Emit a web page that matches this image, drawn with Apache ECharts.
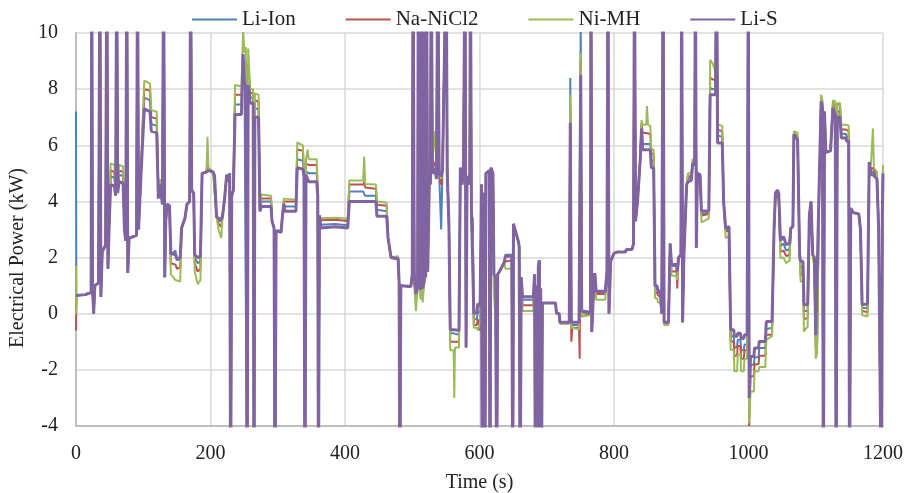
<!DOCTYPE html>
<html>
<head>
<meta charset="utf-8">
<script src="https://cdn.jsdelivr.net/npm/echarts@6/dist/echarts.min.js"></script>
<style>
html,body{margin:0;padding:0;background:#fff;}
#c{width:909px;height:493px;}
</style>
</head>
<body>
<div id="c"></div>
<script>
// Time (s)
const timeS = [
0,0.5,1.5,14,18,22.5,23.5,24.5,26.3,28,
33.5,35.5,37,39,44,45.8,47.5,49.5,51.5,57,
59,60.5,62,64,70,72,74,75.5,77,79,
86,90,91.5,93,96,99,101.5,110,112,120,
122.5,125,128.5,130.3,132,133.5,135.5,139,141,148,
150,155,157,162,165,169,170.5,172,175,176.5,
181,185,187.5,194,195.5,197,204,206,209,212,
216,218,221,224,226,228.5,230,231.5,234,236.5,
246,248.5,250.5,252.5,254.5,256,259,263.5,264.7,266,
271.5,273.5,275.5,290,291.5,294.5,296,297.5,305,307,
309,310.5,327,329,337.5,339,340.5,342,344.5,346,
358,359.5,360.5,362,364,385,404,406.5,427,428.5,
430,446,447.5,462,464,468.5,479,480.5,481.5,483,
498,500,501.3,503,505.5,508,509,510.5,512.5,514,
515.5,518,519,520,521.3,523,525.5,527,528.3,530,
534,536,538,540,543,545,550.5,552,554.5,556.5,
561.5,562.5,563.5,569.5,571.5,574,576,578.5,580,581.5,
585.5,586.5,588,590,591.5,596,597.5,601,603,604,
605.5,607,608,609.5,614.5,615.6,617,620,621.5,624,
625.5,627,632,637,638.5,648,649.5,650.5,657.5,659,
660.5,662,664,680,682,683,684.5,686,687.5,689,
690,691,692,693.5,713,714.5,718.5,719.5,733.5,735,
736.5,738,748,749,750.5,752,765,765.8,767,769,
771.5,773.5,787,789.5,791,792.5,795,800,805,817,
818,827,829,830.5,832,835,839,841,842.5,848,
849,850.5,854,855.5,859,861,864,865.5,869,871,
873,874.5,881,883.5,885.5,893,894,896,899.5,900.6,
902,904,908,910,915,917,920,921,922.5,924,
928,930,941,943,947,951,952.5,954,961,963,
966,971,973.5,978,979,983,984,988,989,993,
994,998,999.7,1001,1003,1008,1009,1015,1016,1025,
1026.5,1035,1038,1040,1043,1045,1047.5,1052,1056,1061,
1063,1066,1067.5,1073,1076,1077.5,1081,1082.5,1088,1090.5,
1093,1095.5,1098,1100,1102,1104.5,1108,1110,1111.3,1113,
1115,1122,1125.5,1129,1130.3,1132,1136,1138,1145,1146,
1149,1150.3,1152,1156,1164,1166.5,1169,1177,1179.5,1182,
1185,1186.5,1191,1193.5,1196,1197.5,1199,1200
];

// Li-S (kW)
const liS = [
0.65,0.65,0.65,0.68,0.72,0.75,13,0.9,0,1.0,
1.1,13,0.6,2.2,2.45,13,1.6,3.3,4.6,4.55,
4.2,13,4.3,4.7,4.65,3.0,2.6,13,1.45,2.7,
2.75,2.8,13,3.0,4.6,6.1,7.3,7.2,6.5,6.45,
4.1,4.6,3.9,13,1.3,3.3,3.9,3.85,2.15,2.1,
1.95,2.0,3.05,3.4,3.9,4.0,13,4.4,4.3,2.1,
2.0,2.05,5.0,5.05,5.1,5.1,5.05,4.9,3.45,3.4,
3.35,3.5,4.1,4.95,4.7,5.0,-7,4.2,4.4,7.1,
7.1,9.25,8.2,8.1,-7,8.15,7.5,7.5,-7,7.0,
7.0,3.65,3.82,3.82,3.3,3.05,-7,2.95,2.9,3.5,
3.9,3.65,3.65,5.2,5.15,4.9,-7,4.95,5.0,4.7,
4.7,4.2,-7,3.5,3.05,3.1,3.05,4.0,4.0,4.05,
4.0,4.0,3.47,3.47,2.7,2.0,1.95,1.1,-7,1.0,
0.97,1.4,13,1.4,0.7,1.0,13,1.2,0.85,13,
0.9,1.2,13,1.3,13,1.5,4.9,4.6,13,5.0,
5.1,4.8,13,5.0,4.9,5.1,13,5.0,3.2,-0.57,
-0.57,-0.57,-0.6,-0.6,5.2,4.6,5.0,13,-1.2,4.9,
4.6,13,3.76,3.7,0.0,0.05,0.35,0.3,4.6,-7,
4.2,4.3,-7,5.0,5.1,-7,5.2,5.0,1.4,1.3,
-7,1.4,1.6,1.85,2.05,2.05,-7,3.2,2.6,2.4,
-7,1.3,0.6,0.6,1.4,-7,1.0,-7,1.7,1.9,
-7,0.9,-7,0.38,0.38,0.02,0.0,-0.3,-0.3,6.8,
-0.3,-0.3,-0.3,-0.3,8.5,0.1,0.05,13,-0.65,0.5,
1.45,0.8,0.8,1.5,13,0.0,1.87,2.15,2.2,2.2,
2.28,2.3,2.5,13,3.3,4.0,5.5,6.6,5.84,5.84,
5.9,5.84,5.84,5.2,5.2,1.0,1.0,0.8,0.8,0.0,
13,-0.3,-0.3,2.5,1.75,1.75,1.5,2.0,2.1,13,
-0.3,2.1,4.6,4.7,4.75,5.35,5.3,13,2.35,5.0,
4.95,3.65,3.67,7.8,7.8,7.8,13,6.08,6.08,4.0,
3.05,3.1,-0.57,-0.57,-0.8,-0.8,-0.7,-0.7,-0.88,-0.88,
-0.75,-0.75,13,-3.0,-1.52,-1.52,-1.22,-1.22,-0.99,-0.99,
-0.28,-0.28,3.0,4.3,4.4,4.3,2.6,2.75,2.46,2.5,
3.05,3.1,6.38,6.2,2.1,1.87,1.87,0.32,0.32,3.5,
4.0,2.1,2.0,-0.77,-0.7,4.0,7.57,7.3,-7,7.2,
5.75,5.8,7.33,7.1,-7,7.0,7.0,6.26,6.26,6.14,
6.14,-7,3.76,3.6,3.55,3.0,0.32,0.35,5.4,4.95,
4.95,4.9,4.8,3.05,3.0,-7,3.5,5.0
];

// Li-Ion (kW)
const liIon = [
7.2,0.65,0.65,0.68,0.72,0.75,13,0.9,0,1.0,
1.1,13,0.6,2.2,2.45,13,1.6,3.3,4.9,4.85,
4.3,13,4.3,4.95,4.9,3.1,2.6,13,1.45,2.7,
2.75,2.8,13,3.0,4.6,6.4,7.7,7.6,6.75,6.7,
4.2,4.65,3.9,13,1.3,3.3,3.9,3.85,2.1,2.25,
1.9,1.95,3.05,3.4,3.9,4.0,13,4.4,4.3,2.0,
1.8,1.85,5.0,5.05,5.2,5.1,5.05,4.95,3.45,3.3,
3.3,3.5,4.1,4.95,4.7,5.0,-7,4.2,4.4,7.45,
7.45,8.8,8.5,8.55,-7,8.4,7.7,7.7,-7,7.3,
7.3,3.65,4.0,4.0,3.3,3.05,-7,2.95,2.95,3.5,
3.95,3.82,3.82,5.5,5.45,4.9,-7,5.07,5.1,5.0,
5.0,4.2,-7,3.5,3.17,3.2,3.15,4.35,4.35,4.4,
4.2,4.2,3.7,3.65,2.7,2.0,1.95,1.1,-7,1.0,
0.97,1.4,13,1.3,0.6,1.0,13,1.1,0.8,13,
0.8,1.2,13,1.3,13,1.5,5.0,4.7,13,5.05,
5.2,4.9,13,5.0,3.0,5.2,13,5.0,3.4,-0.7,
-0.7,-0.75,-0.75,-0.75,5.2,4.6,5.0,13,-1.2,4.9,
4.6,13,3.5,3.4,-0.2,-0.2,0.1,0.0,4.6,-7,
4.2,4.3,-7,5.0,5.1,-7,5.2,5.0,1.2,1.1,
-7,1.4,1.6,1.85,2.1,2.1,-7,3.2,2.6,2.4,
-7,1.3,0.5,0.5,1.4,-7,1.0,-7,1.7,1.9,
-7,0.9,-7,0.38,0.38,0.02,0.0,-0.3,-0.3,8.4,
-0.4,-0.4,-0.4,-0.45,10.5,0.05,0.0,13,-0.65,0.5,
1.45,0.75,0.75,1.5,13,0.0,1.87,2.15,2.2,2.2,
2.28,2.3,2.5,13,3.3,4.0,5.5,6.7,6.05,6.05,
6.1,6.05,6.05,5.45,5.45,0.9,0.9,0.75,0.75,0.0,
13,-0.3,-0.3,2.5,1.7,1.7,1.4,2.0,2.1,13,
-0.3,2.1,4.6,4.8,4.85,5.4,5.35,13,2.35,5.0,
4.95,3.55,3.6,8.04,8.0,8.0,13,6.35,6.3,4.0,
3.0,3.0,-0.8,-0.8,-1.2,-1.2,-0.93,-0.93,-1.3,-1.3,
-1.1,-1.1,13,-3.4,-1.82,-1.82,-1.55,-1.55,-1.22,-1.22,
-0.55,-0.5,3.0,4.2,4.3,4.2,2.4,2.5,2.25,2.3,
3.05,3.1,6.4,6.25,2.1,1.65,1.65,0.1,0.1,3.5,
4.0,2.1,1.9,-1.0,-0.9,3.8,7.6,7.4,-7,7.2,
5.75,5.8,7.4,7.25,-7,7.2,7.2,6.4,6.4,6.3,
6.3,-7,3.76,3.6,3.55,3.0,0.2,0.2,5.4,5.05,
5.05,5.0,4.85,3.05,3.0,-7,3.5,5.05
];

// Na-NiCl2 (kW)
const naNiCl2 = [
-0.6,0.65,0.65,0.68,0.72,0.75,13,0.9,0,1.0,
1.1,13,0.6,2.2,2.45,13,1.6,3.3,5.1,5.05,
4.4,13,4.3,5.1,5.05,3.1,2.6,13,1.45,2.7,
2.75,2.8,13,3.0,4.6,6.6,8.0,7.95,7.0,6.95,
4.35,4.7,3.9,13,1.3,3.3,3.9,3.85,1.8,1.75,
1.6,1.65,3.05,3.4,3.9,4.0,13,4.4,4.3,1.8,
1.5,1.6,5.0,5.05,5.4,5.15,5.05,5.0,3.45,3.2,
3.1,3.5,4.1,4.95,4.7,5.0,-7,4.2,4.4,7.8,
7.8,9.0,8.8,9.0,-7,8.9,7.85,7.85,-7,7.6,
7.55,3.65,4.1,4.1,3.3,3.05,-7,2.95,2.95,3.5,
4.0,4.0,4.0,5.85,5.8,4.9,-7,5.35,5.4,5.3,
5.3,4.2,-7,3.5,3.33,3.35,3.3,4.6,4.6,4.7,
4.5,4.45,3.88,3.85,2.7,2.0,2.0,1.1,-7,1.0,
0.97,1.4,13,1.2,0.4,1.0,13,1.0,0.7,13,
0.65,1.2,13,1.3,13,1.5,5.1,4.8,13,5.2,
5.4,5.0,13,5.1,4.6,5.2,13,5.2,3.2,-1.0,
-1.0,-1.05,-1.0,-1.0,5.2,4.6,5.0,13,-1.2,4.9,
4.6,13,3.2,3.1,-0.4,-0.4,-0.2,-0.6,4.6,-7,
4.2,4.3,-7,5.0,5.1,-7,5.2,5.0,0.9,0.8,
-7,1.4,1.6,1.85,1.9,1.9,-7,3.2,2.6,2.4,
-7,1.3,0.3,0.3,1.4,-7,1.0,-7,1.7,1.9,
-7,0.9,-7,0.38,0.38,0.02,0.0,-0.35,-0.35,7.4,
-1.0,-0.5,-0.5,-1.6,9.0,-0.1,0.0,13,-0.65,0.5,
1.45,0.7,0.7,1.5,13,0.0,1.87,2.15,2.2,2.2,
2.28,2.3,2.5,13,3.3,4.0,5.5,6.8,6.44,6.44,
6.5,6.44,6.4,5.7,5.7,0.75,0.75,0.65,0.6,0.0,
13,-0.35,-0.35,2.5,1.5,1.5,0.9,2.0,2.1,13,
-0.3,2.1,4.6,4.9,4.9,5.45,5.4,13,2.35,5.0,
4.95,3.5,3.55,8.4,8.35,8.3,13,6.55,6.5,4.0,
2.95,2.95,-0.99,-0.99,-1.5,-1.5,-1.15,-1.15,-1.6,-1.6,
-1.3,-1.3,13,-4.0,-2.23,-2.23,-1.8,-1.8,-1.5,-1.5,
-0.75,-0.75,3.0,4.1,4.2,4.1,2.2,2.25,2.05,2.1,
3.05,3.1,6.45,6.3,2.1,1.4,1.4,-0.2,-0.15,3.5,
4.0,2.1,1.8,-1.2,-1.1,3.6,7.7,7.5,-7,7.2,
5.75,5.8,7.5,7.4,-7,7.45,7.5,6.56,6.56,6.5,
6.5,-7,3.76,3.6,3.55,3.0,0.1,0.05,5.4,5.15,
5.2,5.1,4.95,3.05,3.0,-7,3.5,5.15
];

// Ni-MH (kW)
const niMH = [
1.7,0,0.65,0.68,0.72,0.75,13,0.9,0,1.0,
1.1,13,0.6,2.2,2.45,13,1.6,3.3,5.35,5.3,
4.5,13,4.3,5.3,5.25,3.2,2.6,13,1.45,2.7,
2.75,2.8,13,3.0,4.6,6.8,8.3,8.2,7.25,7.2,
4.5,4.8,3.9,13,1.3,3.3,3.9,3.85,1.4,1.2,
1.2,1.15,3.05,3.4,3.9,4.0,13,4.4,4.3,1.5,
1.05,1.2,5.0,5.05,6.3,5.2,5.05,5.05,3.45,3.0,
2.7,3.5,4.1,4.95,4.7,5.0,-7,4.2,4.4,8.15,
8.1,10.1,9.3,9.5,-7,9.45,8.0,8.0,-7,7.85,
7.8,3.65,4.25,4.2,3.3,3.05,-7,2.95,3.0,3.5,
4.1,4.06,4.06,6.1,6.0,4.9,-7,5.5,5.85,5.5,
5.5,4.2,-7,3.5,3.4,3.42,3.38,4.75,4.75,5.6,
4.62,4.6,4.0,3.95,2.7,2.0,2.05,1.1,-7,1.0,
0.97,1.4,13,1.0,0.1,1.0,13,0.9,0.5,13,
0.4,1.2,13,1.3,13,1.5,5.2,4.9,13,5.5,
6.5,5.1,13,5.2,4.8,5.3,13,5.3,3.3,-1.3,
-1.3,-3.0,-1.2,-1.2,5.2,4.6,5.0,13,-1.2,4.9,
4.6,13,3.0,2.9,-0.5,-0.5,-0.6,-0.3,4.6,-7,
4.2,4.3,-7,5.0,5.1,-7,5.2,5.0,0.7,-0.25,
-7,1.4,1.6,1.85,1.6,1.6,-7,3.2,2.6,2.4,
-7,1.3,0.1,0.1,1.4,-7,1.0,-7,1.7,1.9,
-7,0.9,-7,0.38,0.38,0.02,0.0,-0.35,-0.35,7.8,
-0.5,-0.55,-0.55,-0.6,9.3,-0.1,-0.05,13,-0.65,0.5,
1.45,0.5,0.5,1.5,13,0.0,1.87,2.15,2.2,2.2,
2.28,2.3,2.5,13,3.3,4.0,5.5,6.9,6.73,6.73,
7.4,6.73,6.7,5.85,5.85,0.55,0.55,0.4,0.4,0.0,
13,-0.4,-0.4,2.5,1.35,1.35,1.2,2.0,2.1,13,
-0.3,2.1,4.6,5.0,5.0,5.5,5.5,13,2.35,5.0,
4.95,3.25,3.4,9.05,8.9,8.6,13,6.73,6.7,4.0,
2.7,2.75,-1.28,-1.28,-2.05,-2.05,-1.45,-1.45,-2.05,-2.05,
-1.6,-1.6,13,-3.9,-2.77,-2.77,-2.05,-2.05,-1.9,-1.9,
-0.93,-0.8,3.0,4.0,4.1,4.0,1.98,2.0,1.8,1.9,
3.05,3.1,6.5,6.45,2.1,1.15,1.15,-0.63,-0.45,3.5,
4.0,2.1,1.6,-1.6,-1.4,3.3,7.8,7.6,-7,7.2,
5.75,5.8,7.6,7.57,-7,7.5,7.5,6.73,6.73,6.7,
6.7,-7,3.76,3.6,3.55,3.0,-0.05,-0.1,5.4,5.3,
6.6,5.2,5.05,3.05,3.0,-7,3.5,5.3
];

const seriesNames = ['Li-Ion', 'Na-NiCl2', 'Ni-MH', 'Li-S'];
const seriesColors = ['#4F81BD', '#C0504D', '#9BBB59', '#8064A2'];
const xTicks = {min: 0, max: 1200, step: 200};
const yTicks = {min: -4, max: 10, step: 2};

[liIon, naNiCl2, niMH, liS].forEach((a, i) => {
  if (a.length !== timeS.length) console.error('length mismatch', seriesNames[i], a.length, timeS.length);
});

function pairs(vals) { return timeS.map((t, i) => [t, vals[i]]); }

const FONT = '"Liberation Serif", "Times New Roman", serif';
const chart = echarts.init(document.getElementById('c'), null, {renderer: 'canvas'});
const allVals = [liIon, naNiCl2, niMH, liS];
const widths = [2, 2, 2, 3];

chart.setOption({
  animation: false,
  backgroundColor: '#ffffff',
  legend: {
    data: seriesNames.map(n => ({name: n, icon: 'rect'})),
    top: 4,
    left: 187,
    itemWidth: 45,
    itemHeight: 2,
    itemGap: 50,
    textStyle: {fontFamily: FONT, fontSize: 21, color: '#222'}
  },
  grid: {left: 76, right: 26, top: 33, bottom: 67, containLabel: false, outerBoundsMode: 'none'},
  xAxis: {
    type: 'value',
    min: xTicks.min, max: xTicks.max, interval: xTicks.step,
    name: 'Time (s)',
    nameLocation: 'middle',
    nameGap: 47,
    nameTextStyle: {fontFamily: FONT, fontSize: 20, color: '#222'},
    axisLine: {show: true, onZero: false, lineStyle: {color: '#BFBFBF', width: 2}},
    axisTick: {show: false},
    splitLine: {show: true, lineStyle: {color: '#D9D9D9', width: 1.5}},
    axisLabel: {fontFamily: FONT, fontSize: 20, color: '#222', margin: 18, formatter: v => String(v)}
  },
  yAxis: {
    type: 'value',
    min: yTicks.min, max: yTicks.max, interval: yTicks.step,
    axisLine: {show: true, onZero: false, lineStyle: {color: '#BFBFBF', width: 2}},
    axisTick: {show: false},
    splitLine: {show: true, lineStyle: {color: '#D9D9D9', width: 1.5}},
    axisLabel: {fontFamily: FONT, fontSize: 20, color: '#222', margin: 18, formatter: v => String(v)}
  },
  graphic: [{
    type: 'text',
    x: 18, y: 258,
    rotation: Math.PI / 2,
    style: {
      text: 'Electrical Power (kW)',
      font: '20px "Liberation Serif", "Times New Roman", serif',
      fill: '#222',
      align: 'center',
      verticalAlign: 'middle',
      textAlign: 'center',
      textVerticalAlign: 'middle'
    }
  }],
  series: seriesNames.map((name, i) => ({
    name: name,
    type: 'line',
    data: pairs(allVals[i]),
    symbol: 'none',
    showSymbol: false,
    clip: true,
    silent: true,
    z: 2 + i,
    itemStyle: {color: seriesColors[i]},
    lineStyle: {color: seriesColors[i], width: widths[i]}
  }))
});
</script>
</body>
</html>
